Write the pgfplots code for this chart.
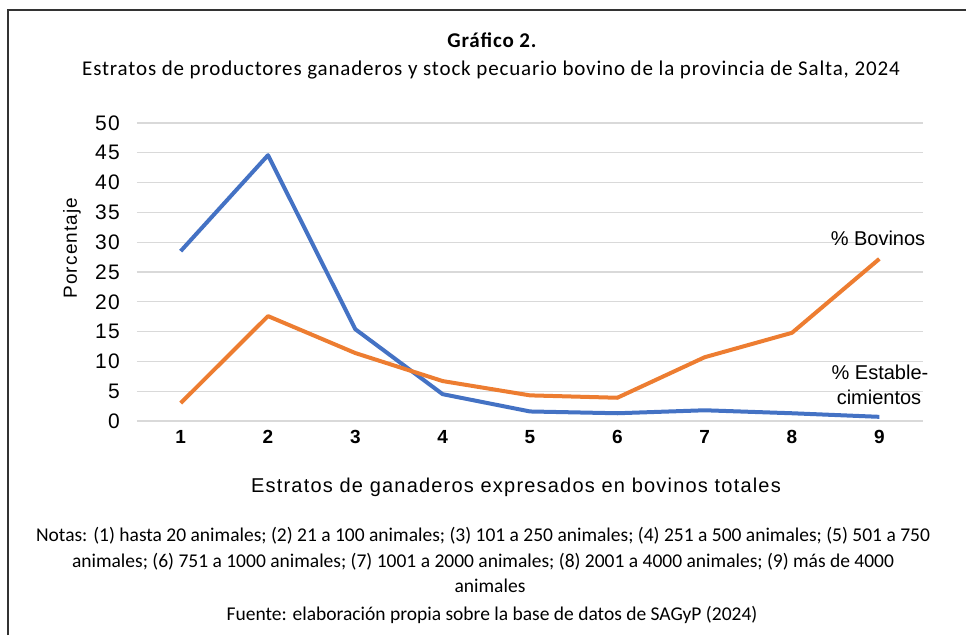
\documentclass[border=0pt]{standalone}
\usepackage{fontspec}
\setmainfont{Liberation Sans}
\newfontfamily\carlito{Carlito}
\newfontfamily\carlitosp[LetterSpace=4]{Carlito}
\newfontfamily\arialsp[LetterSpace=6]{Liberation Sans}
\usepackage{pgfplots}
\pgfplotsset{compat=1.18}
\definecolor{establ}{RGB}{68,114,196}
\definecolor{bov}{RGB}{237,125,49}
\definecolor{grilla}{RGB}{217,217,217}

\begin{document}
\begin{tikzpicture}
\begin{axis}[
    width=786pt, height=298pt, scale only axis,
    xmin=0.5, xmax=9.5, ymin=0, ymax=50,
    xtick={1,...,9}, ytick={0,5,...,50},
    axis line style={draw=none},
    major tick length=0pt,
    ymajorgrids, grid style={grilla, line width=1.2pt},
    /pgf/number format/assume math mode=true,
    xticklabel style={font=\arialsp\bfseries\fontsize{19}{20}\selectfont, anchor=north, inner sep=0pt, yshift=-9pt},
    yticklabel style={font=\arialsp\fontsize{21}{22}\selectfont, anchor=east, inner sep=0pt, xshift=-17pt},
    clip=false,
]
% Establecimientos
\addplot[establ, line width=4pt, line join=round] coordinates {
    (1,28.5) (2,44.6) (3,15.4) (4,4.5) (5,1.6) (6,1.3) (7,1.8) (8,1.3) (9,0.7)
};
% Bovinos
\addplot[bov, line width=4pt, line join=round] coordinates {
    (1,3.0) (2,17.6) (3,11.4) (4,6.7) (5,4.3) (6,3.9) (7,10.7) (8,14.8) (9,27.2)
};
\end{axis}

\begin{scope}[shift={(-137pt,-214pt)}]
\useasboundingbox (0pt,0pt) rectangle (966pt,635pt);
\draw[line width=1.5pt, black!80] (8pt,0pt) -- (8pt,625pt) -- (966pt,625pt);

% titles
\node[font=\carlitosp\bfseries\fontsize{21}{24}\selectfont] at (492pt,595pt) {Gráfico 2.};
\node[font=\carlitosp\fontsize{21}{24}\selectfont] at (491pt,565pt) {Estratos de productores ganaderos y stock pecuario bovino de la provincia de Salta, 2024};

% axis titles
\node[rotate=90, font=\arialsp\fontsize{19}{22}\selectfont] at (72pt,387pt) {Porcentaje};
\node[font=\arialsp\fontsize{20}{24}\selectfont] at (516pt,148pt) {Estratos de ganaderos expresados en bovinos totales};

% series labels
\node[font=\fontsize{20}{22}\selectfont] at (878pt,397pt) {\% Bovinos};
\node[font=\fontsize{20}{22}\selectfont] at (880pt,263pt) {\% Estable-};
\node[font=\fontsize{20}{22}\selectfont] at (879pt,238pt) {cimientos};

% notes
\node[font=\carlito\fontsize{19.5}{22}\selectfont] at (483pt,99pt) {Notas: (1) hasta 20 animales; (2) 21 a 100 animales; (3) 101 a 250 animales; (4) 251 a 500 animales; (5) 501 a 750};
\node[font=\carlito\fontsize{19.5}{22}\selectfont] at (483pt,73pt) {animales; (6) 751 a 1000 animales; (7) 1001 a 2000 animales; (8) 2001 a 4000 animales; (9) más de 4000};
\node[font=\carlito\fontsize{19.5}{22}\selectfont] at (490pt,49pt) {animales};
\node[font=\carlito\fontsize{19.5}{22}\selectfont] at (492pt,20pt) {Fuente: elaboración propia sobre la base de datos de SAGyP (2024)};
\end{scope}
\end{tikzpicture}
\end{document}
